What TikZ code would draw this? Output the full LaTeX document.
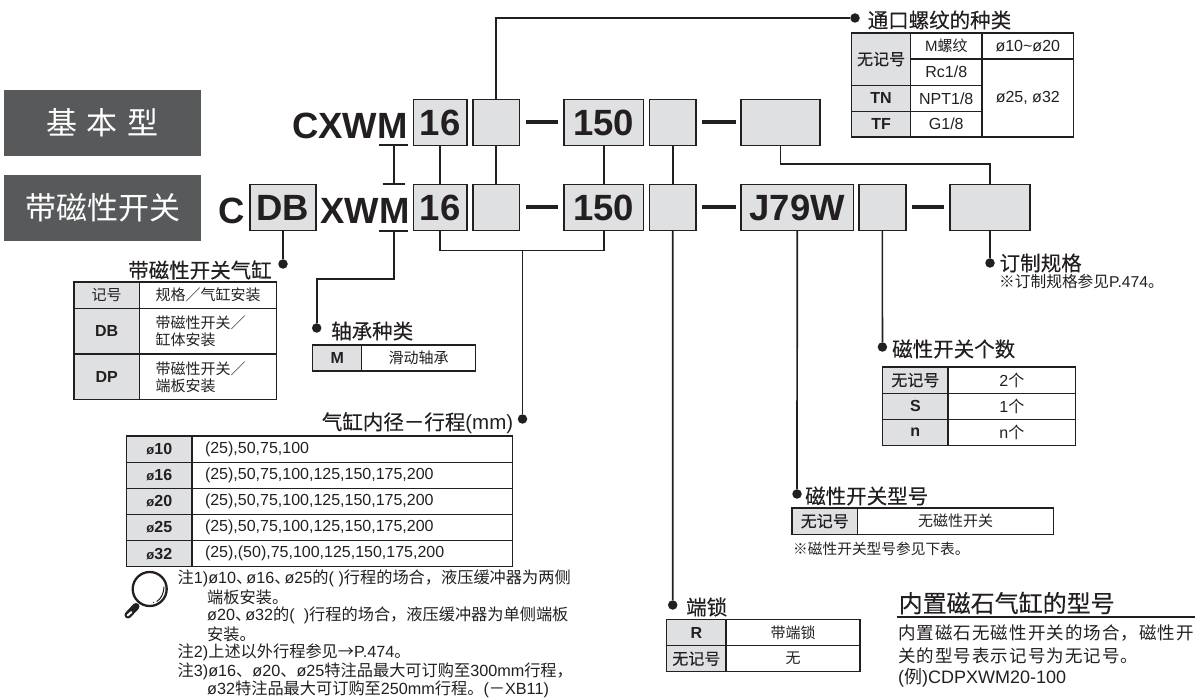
\documentclass[tikz,border=0pt]{standalone}
\usepackage{fontspec}
\setmainfont{Liberation Sans}
\newfontfamily\zhf{Noto Sans CJK SC}
\newfontfamily\zht[FakeBold=0.25]{Noto Sans CJK SC}
\newfontfamily\zhs[LetterSpace=6]{Noto Sans CJK SC}
\newcommand\Z[1]{{\zhf #1}}
\definecolor{ink}{HTML}{231F20}
\definecolor{cellg}{HTML}{DFE0E2}
\definecolor{labg}{HTML}{58595B}
\newcommand\sz[1]{\fontsize{#1}{#1}\selectfont}
\tikzset{
 x=1pt,y=-1pt,
 conn/.style={draw=ink,line width=1.7pt},
 dash line/.style={draw=ink,line width=3.4pt},
 pt/.style={circle,fill=ink,inner sep=0,minimum size=9.5pt},
 mbox/.style={draw=ink,line width=1.8pt,fill=cellg,inner sep=0,outer sep=0,text=ink,font=\sz{36.5}\bfseries},
 lab/.style={fill=labg,inner sep=0,outer sep=0,text=white,font=\sz{31}\zhf},
 big/.style={inner sep=0,anchor=base west,text=ink,font=\sz{36.5}\bfseries},
 ttl/.style={inner sep=0,anchor=west,text=ink,font=\sz{20.5}\zht},
 cell/.style={draw=ink,line width=1.2pt,inner sep=0,outer sep=0,text=ink,align=center,font=\sz{15}},
 gc/.style={cell,fill=cellg},
 key/.style={gc,font=\sz{16}\bfseries},
 zk/.style={gc,font=\sz{16}\zht},
 zc/.style={cell,font=\sz{15}\zhf},
 lc/.style={cell,font=\sz{16}},
 zleft/.style={zc,align=left,text width=104.6pt,inner xsep=16.4pt},
 lleft/.style={lc,align=left,text width=294.3pt,inner xsep=13pt},
 note/.style={inner sep=0,anchor=west,text=ink,font=\sz{16.2}},
}
\newcommand\cellbox[7][]{%
 \pgfmathsetmacro\cellX{(#3+#5)/2}\pgfmathsetmacro\cellY{(#4+#6)/2}%
 \pgfmathsetmacro\cellW{#5-#3}\pgfmathsetmacro\cellH{#6-#4}%
 \node[#1,minimum width=\cellW pt,minimum height=\cellH pt] (#2) at (\cellX,\cellY) {#7};}
\newcommand\dun{\Z{、}\kern-6pt\relax}
\begin{document}
\begin{tikzpicture}
\useasboundingbox (0,0) rectangle (1204,700);
% labels
\cellbox[lab]{labA}{4}{90}{201}{156}{基\hspace{10pt}本\hspace{10pt}型}
\cellbox[lab]{labB}{4}{175}{201}{241}{带磁性开关}
% model text
\node[big] (cxwm) at (292,138.5) {CXWM};
\node[big] (c) at (218,223.5) {C};
\node[big] (xwm) at (320,223.5) {XWM};
% top row
\cellbox[mbox]{t16}{413.5}{99.5}{467}{145.5}{16}
\cellbox[mbox]{t2}{473}{99.5}{519.5}{145.5}{}
\cellbox[mbox]{t150}{564}{99.5}{643.5}{145.5}{150}
\cellbox[mbox]{t3}{649.5}{99.5}{696}{145.5}{}
\cellbox[mbox]{t4}{741}{99.5}{820}{145.5}{}
% bottom row
\cellbox[mbox]{bDB}{250}{184.5}{316}{230.5}{DB}
\cellbox[mbox]{b16}{413.5}{184.5}{467}{230.5}{16}
\cellbox[mbox]{b2}{473}{184.5}{519.5}{230.5}{}
\cellbox[mbox]{b150}{564}{184.5}{643.5}{230.5}{150}
\cellbox[mbox]{b3}{649.5}{184.5}{696}{230.5}{}
\cellbox[mbox]{bJ}{741}{184.5}{853.5}{230.5}{J79W}
\cellbox[mbox]{b5}{858.7}{184.5}{906}{230.5}{}
\cellbox[mbox]{b6}{950}{184.5}{1030}{230.5}{}
% dashes
\draw[dash line] (526,122) -- (558,122);
\draw[dash line] (526,207) -- (558,207);
\draw[dash line] (702,122) -- (735.5,122);
\draw[dash line] (702,207) -- (735.5,207);
\draw[dash line] (911.6,207) -- (944,207);
% dots
\node[pt] (dThread) at (855,18) {};
\node[pt] (dDB) at (283,264) {};
\node[pt] (dM) at (316.7,328) {};
\node[pt] (dBore) at (522.5,419) {};
\node[pt] (dLock) at (672.7,605) {};
\node[pt] (dSw) at (797,494) {};
\node[pt] (dNum) at (882.4,347) {};
\node[pt] (dOrd) at (990,263) {};
% M underlines and link
\coordinate (mTop) at (394,145);
\coordinate (mTick) at (394,184.3);
\coordinate (mBot) at (394,230.7);
\draw[conn] (379.3,145) -- (408.3,145);
\draw[conn] (382.7,184.3) -- (405,184.3);
\draw[conn] (379.3,230.7) -- (408.3,230.7);
\draw[conn] (mTop) -- (mTick);
\draw[conn] (mBot) |- (316.7,279) -- (dM);
% connectors
\draw[conn] (t16.south) -- (b16.north);
\draw[conn] (t2.south) -- (b2.north);
\draw[conn] (t150.south) -- (b150.north);
\draw[conn] (t3.south) -- (b3.north);
\draw[conn] (t2.north) |- (dThread);
\draw[conn] (t4.south) -- ++(0,18.5) -| (b6.north);
\draw[conn] (bDB.south) -- (dDB);
\draw[conn] (b16.south) -- ++(0,20) -| (b150.south);
\draw[conn] (522.5,250.5) -- (dBore);
\draw[conn] (b3.south) -- (dLock);
\draw[conn] (bJ.south) -- (dSw);
\draw[conn] (b5.south) -- (dNum);
\draw[conn] (b6.south) -- (dOrd);
% thread table
\node[ttl] (tThread) at (867.5,20) {通口螺纹的种类};
\cellbox[zk]{a1}{851.7}{33}{910.5}{85.3}{无记号}
\cellbox[key]{a2}{851.7}{85.3}{910.5}{111.3}{TN}
\cellbox[key]{a3}{851.7}{111.3}{910.5}{137}{TF}
\cellbox[cell]{a4}{910.5}{33}{982}{59}{M\Z{螺纹}}
\cellbox[lc]{a5}{910.5}{59}{982}{85.3}{Rc1/8}
\cellbox[lc]{a6}{910.5}{85.3}{982}{111.3}{NPT1/8}
\cellbox[lc]{a7}{910.5}{111.3}{982}{137}{G1/8}
\cellbox[lc]{a8}{982}{33}{1073.6}{59}{ø10\textasciitilde ø20}
\cellbox[lc]{a9}{982}{59}{1073.6}{137}{ø25, ø32}
% order
\node[ttl] (tOrd) at (999.5,263) {订制规格};
\node[note,font=\sz{15.7}] (nOrd) at (999,281.5) {\Z{※订制规格参见}P.474\Z{。}};
% DB table
\node[ttl] (tDB) at (128,270) {带磁性开关气缸};
\cellbox[gc]{b1x}{74}{282}{139.3}{308.3}{\zhf 记号}
\cellbox[zc]{b2x}{139.3}{282}{276.7}{308.3}{规格／气缸安装}
\cellbox[key]{b3x}{74}{308.3}{139.3}{354}{DB}
\cellbox[zleft]{b4x}{139.3}{308.3}{276.7}{354}{带磁性开关／\\[2pt]缸体安装}
\cellbox[key]{b5x}{74}{354}{139.3}{399.7}{DP}
\cellbox[zleft]{b6x}{139.3}{354}{276.7}{399.7}{带磁性开关／\\[2pt]端板安装}
% bearing
\node[ttl] (tM) at (331,331) {轴承种类};
\cellbox[key]{c1}{312.7}{345}{361.7}{371}{M}
\cellbox[zc]{c2}{361.7}{345}{475.7}{371}{滑动轴承}
% bore table
\node[inner sep=0,anchor=west,text=ink,font=\sz{20.5}] (tBore) at (321.7,423) {{\zht 气缸内径－行程}(mm)};
\cellbox[key]{d1}{126.7}{436}{192}{462.3}{\sz{13}ø\sz{16}\bfseries 10}
\cellbox[key]{d2}{126.7}{462.3}{192}{488.3}{\sz{13}ø\sz{16}\bfseries 16}
\cellbox[key]{d3}{126.7}{488.3}{192}{514.3}{\sz{13}ø\sz{16}\bfseries 20}
\cellbox[key]{d4}{126.7}{514.3}{192}{540.7}{\sz{13}ø\sz{16}\bfseries 25}
\cellbox[key]{d5}{126.7}{540.7}{192}{566.7}{\sz{13}ø\sz{16}\bfseries 32}
\cellbox[lleft]{e1}{192}{436}{512.3}{462.3}{(25),50,75,100}
\cellbox[lleft]{e2}{192}{462.3}{512.3}{488.3}{(25),50,75,100,125,150,175,200}
\cellbox[lleft]{e3}{192}{488.3}{512.3}{514.3}{(25),50,75,100,125,150,175,200}
\cellbox[lleft]{e4}{192}{514.3}{512.3}{540.7}{(25),50,75,100,125,150,175,200}
\cellbox[lleft]{e5}{192}{540.7}{512.3}{566.7}{(25),(50),75,100,125,150,175,200}
% magnifier
\draw[ink,line width=2.3pt] (149.7,589) circle (17);
\draw[ink,line width=7pt,line cap=round] (136,606.5) -- (128,615);
\draw[white,line width=2pt,line cap=round] (131.5,612) -- (127.5,615.5);
\draw[ink,line width=1pt] (156.7,601.5) .. controls (161,599) and (164,593) .. (164,586.7);
\fill[ink] (153.5,602.5) circle (0.7);
% notes
\node[note] (n1) at (177.5,578) {\Z{注}1)ø10\dun ø16\dun ø25\Z{的}(\ )\Z{行程的场合，液压缓冲器为两侧}};
\node[note] (n2) at (207,597.5) {\Z{端板安装。}};
\node[note] (n3) at (207,615.5) {ø20\dun ø32\Z{的}(\ \ )\Z{行程的场合，液压缓冲器为单侧端板}};
\node[note] (n4) at (207,634) {\Z{安装。}};
\node[note] (n5) at (177.5,652) {\Z{注}2)\Z{上述以外行程参见→}P.474\Z{。}};
\node[note] (n6) at (177.5,671) {\Z{注}3)ø16\Z{、}ø20\Z{、}ø25\Z{特注品最大可订购至}300mm\Z{行程，}};
\node[note] (n7) at (207,689.5) {ø32\Z{特注品最大可订购至}250mm\Z{行程。}(\Z{－}XB11)};
% switch count
\node[ttl] (tNum) at (892,349) {磁性开关个数};
\cellbox[zk]{f1}{882.7}{367}{948}{393.3}{无记号}
\cellbox[key]{f2}{882.7}{393.3}{948}{419.3}{S}
\cellbox[key]{f3}{882.7}{419.3}{948}{445.7}{n}
\cellbox[lc]{f4}{948}{367}{1075.8}{393.3}{2\Z{个}}
\cellbox[lc]{f5}{948}{393.3}{1075.8}{419.3}{1\Z{个}}
\cellbox[lc]{f6}{948}{419.3}{1075.8}{445.7}{n\Z{个}}
% switch model
\node[ttl] (tSw) at (805,496) {磁性开关型号};
\cellbox[zk]{g1}{792}{508}{857.5}{534.3}{无记号}
\cellbox[zc]{g2}{857.5}{508}{1053.8}{534.3}{无磁性开关}
\node[note,font=\sz{14.7}\zhf] (nSw) at (793,549) {※磁性开关型号参见下表。};
% lock
\node[ttl] (tLock) at (686,607) {端锁};
\cellbox[key]{h1}{666.6}{619.3}{726}{645.7}{R}
\cellbox[zk]{h2}{666.6}{645.7}{726}{671.7}{无记号}
\cellbox[zc]{h3}{726}{619.3}{860}{645.7}{带端锁}
\cellbox[zc]{h4}{726}{645.7}{860}{671.7}{无}
% bottom right
\node[ttl,font=\sz{24}\zht] (tIn) at (898.5,603) {内置磁石气缸的型号};
\coordinate (rL) at (896.7,616.7);
\coordinate (rR) at (1195,616.7);
\draw[ink,line width=2pt] (rL) -- (rR);
\node[note,font=\sz{17.5}\zhs] (p1) at (898,633.5) {内置磁石无磁性开关的场合，磁性开};
\node[note,font=\sz{17.5}\zhs] (p2) at (898,656) {关的型号表示记号为无记号。};
\node[note,font=\sz{18}] (p3) at (898,678) {(\Z{例})CDPXWM20-100};
\end{tikzpicture}
\end{document}
